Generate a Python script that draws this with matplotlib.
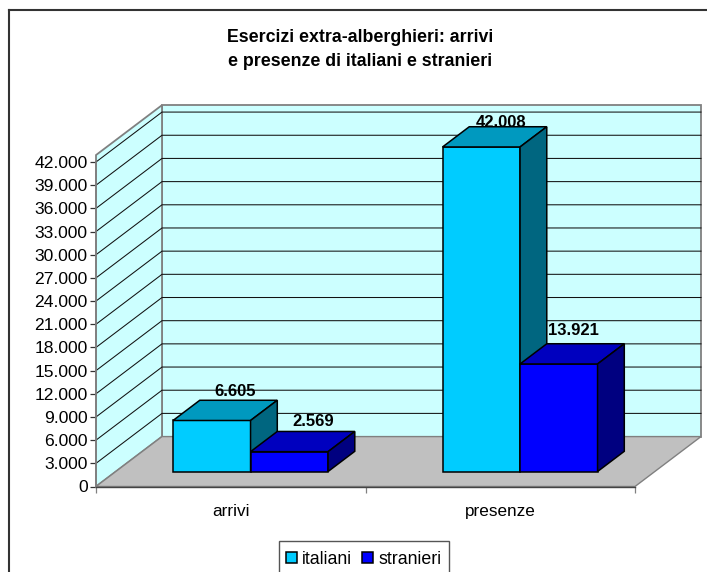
import matplotlib
matplotlib.use("Agg")
import matplotlib.pyplot as plt
from matplotlib.lines import Line2D
from matplotlib.patches import Patch, Polygon, Rectangle
from matplotlib.ticker import FuncFormatter

categories = ["arrivi", "presenze"]
series_names = ["italiani", "stranieri"]
italiani = [6605, 42008]
stranieri = [2569, 13921]
y_ticks = list(range(0, 42001, 3000))

W, H = 707, 572
plt.rcParams['font.family'] = ['Liberation Sans', 'DejaVu Sans']

# colours: front, top, side
colors_it = ("#00CCFF", "#0099BF", "#006680")
colors_st = ("#0000FF", "#0000BF", "#000080")
WALL = "#CCFFFF"
FLOOR = "#C0C0C0"
EDGE = "#808080"

# oblique projection, depth 0 = front plane, depth 1 = back wall
DX = 66 / 269.5
DY = 50 / 325 * 42000
WALL_TOP = 42900
BAR_W = 0.2876
Z0, Z1 = 0.30, 0.705


def proj(x, y, z):
    return (x + z * DX, y + z * DY)


def poly(ax, pts, fc, ec, lw=0.9, z=2):
    ax.add_patch(Polygon([proj(*p) for p in pts], closed=True, facecolor=fc, edgecolor=ec,
                         linewidth=lw, zorder=z, clip_on=False, joinstyle='miter'))


def bar3d(ax, x0, x1, val, cols):
    poly(ax, [(x0, 0, Z0), (x1, 0, Z0), (x1, val, Z0), (x0, val, Z0)], cols[0], "black", 1.1, 5)
    poly(ax, [(x0, val, Z0), (x1, val, Z0), (x1, val, Z1), (x0, val, Z1)], cols[1], "black", 1.1, 5)
    poly(ax, [(x1, 0, Z0), (x1, 0, Z1), (x1, val, Z1), (x1, val, Z0)], cols[2], "black", 1.1, 5)


fig = plt.figure(figsize=(W / 100, H / 100), dpi=100)
ax = fig.add_axes([96 / W, 1 - 486.5 / H, 539 / W, 324.5 / H])
ax.set_xlim(0, 2)
ax.set_ylim(0, 42000)
ax.patch.set_visible(False)

# walls and floor
poly(ax, [(0, 0, 1), (2, 0, 1), (2, WALL_TOP, 1), (0, WALL_TOP, 1)], WALL, EDGE, 1.3, 1)
poly(ax, [(0, 0, 0), (0, 0, 1), (0, WALL_TOP, 1), (0, WALL_TOP, 0)], WALL, EDGE, 1.3, 1)
poly(ax, [(0, 0, 0), (2, 0, 0), (2, 0, 1), (0, 0, 1)], FLOOR, EDGE, 1.0, 1)

for v in y_ticks[1:]:
    a = proj(0, v, 0)
    b = proj(0, v, 1)
    c = proj(2, v, 1)
    ax.plot([a[0], b[0], c[0]], [a[1], b[1], c[1]], color="#111111", lw=0.75, zorder=2, clip_on=False)

for i in range(len(categories)):
    bar3d(ax, i + 0.5 - BAR_W, i + 0.5, italiani[i], colors_it)
    bar3d(ax, i + 0.5, i + 0.5 + BAR_W, stranieri[i], colors_st)

# value labels, nudges in points
nudge_it = [(-2.5, 6), (-5, 3.2)]
nudge_st = [(-1.8, 7.4), (-8.6, 9.5)]
for i in range(len(categories)):
    for vals, x, nudges in ((italiani, i + 0.5 - BAR_W / 2, nudge_it), (stranieri, i + 0.5 + BAR_W / 2, nudge_st)):
        ax.annotate(f"{vals[i]:,}".replace(",", "."), xy=proj(x, vals[i], Z1), xytext=nudges[i],
                    textcoords="offset points", ha="center", va="center", fontsize=12, fontweight="bold",
                    zorder=6, annotation_clip=False)

ax.set_yticks(y_ticks)
ax.yaxis.set_major_formatter(FuncFormatter(lambda v, _: f"{int(v):,}".replace(",", ".")))
ax.set_xticks([0, 1, 2])
ax.set_xticklabels([])
ax.set_xticks([0.5, 1.5], minor=True)
ax.set_xticklabels(categories, minor=True)
ax.tick_params(axis="x", which="minor", length=0, labelsize=12.3, pad=12.3)
ax.tick_params(axis="x", which="major", length=4, width=0.9, color=EDGE)
ax.tick_params(axis="y", length=4, width=0.9, color="#333333", labelsize=12.6, pad=2)
for s in ("top", "right"):
    ax.spines[s].set_visible(False)
ax.spines["left"].set_color(EDGE)
ax.spines["left"].set_linewidth(1.3)
ax.spines["bottom"].set_color("#444444")
ax.spines["bottom"].set_linewidth(1.0)
ax.spines["bottom"].set_zorder(3)

fig.text(360 / W, 1 - 49.5 / H, "Esercizi extra-alberghieri: arrivi\ne presenze di italiani e stranieri",
         ha="center", va="center", fontsize=12.8, fontweight="bold", linespacing=1.47)

# chart frame, open at right and bottom as in the export
fig.add_artist(Line2D([9 / W, 9 / W], [0, 1 - 10 / H], color="#333333", lw=1.5))
fig.add_artist(Line2D([9 / W, 1], [1 - 10 / H, 1 - 10 / H], color="#333333", lw=1.5))

# legend box runs off the bottom edge of the picture
fig.add_artist(Rectangle((279 / W, -5 / H), 170 / W, (H + 5 - 541) / H, transform=fig.transFigure,
                         facecolor="white", edgecolor="#555555", linewidth=1.0))
handles = [Patch(facecolor=colors_it[0], edgecolor="black", linewidth=1.1),
           Patch(facecolor=colors_st[0], edgecolor="black", linewidth=1.1)]
leg = fig.legend(handles, series_names, loc="upper left", bbox_to_anchor=(286 / W, 1 - 551 / H), ncol=2,
                 frameon=False, fontsize=12.8, handlelength=0.6, handleheight=0.6,
                 handletextpad=0.32, columnspacing=0.55, borderpad=0, borderaxespad=0)
leg.set_zorder(10)

fig.savefig("out.png", dpi=100)
